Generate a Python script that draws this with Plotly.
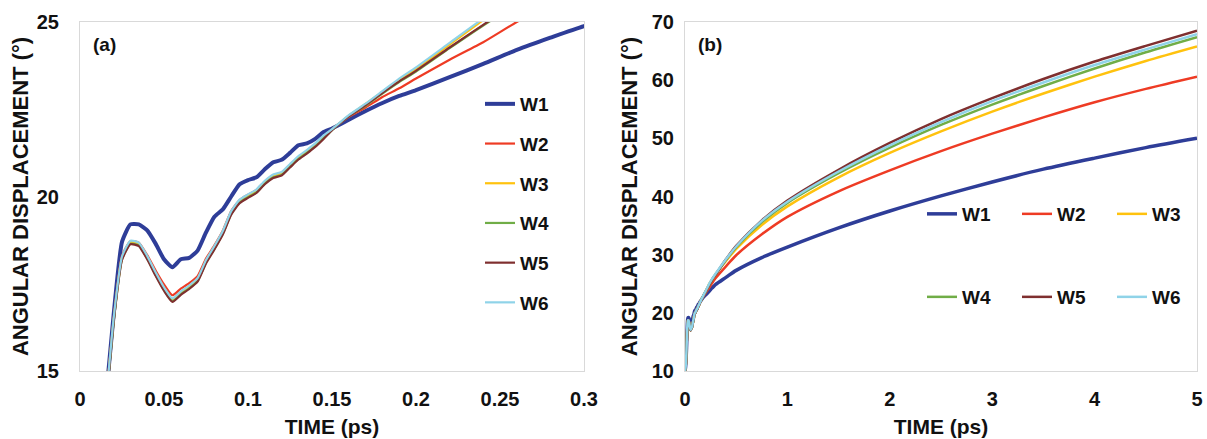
import plotly.graph_objects as go

# ---------------- data ----------------
TIME_PS = [0, 0.005, 0.01, 0.015, 0.02, 0.025, 0.03, 0.035, 0.04, 0.045, 0.05,
           0.055, 0.06, 0.065, 0.07, 0.075, 0.08, 0.085, 0.09, 0.095, 0.1,
           0.105, 0.11, 0.115, 0.12, 0.125, 0.13, 0.135, 0.14, 0.145, 0.15,
           0.16, 0.17, 0.18, 0.19, 0.2, 0.22, 0.24, 0.26, 0.28, 0.3,
           0.4, 0.5, 0.75, 1, 1.5, 2, 2.5, 3, 3.5, 4, 4.5, 5]

W1 = [10.0, 10.6, 11.8, 14.0, 16.6, 18.7, 19.2, 19.2, 19.03, 18.65, 18.2,
      17.97, 18.2, 18.24, 18.45, 18.97, 19.42, 19.63, 20.0, 20.35, 20.47,
      20.55, 20.78, 20.98, 21.05, 21.25, 21.47, 21.52, 21.65, 21.85, 21.95,
      22.2, 22.45, 22.68, 22.88, 23.05, 23.42, 23.8, 24.2, 24.55, 24.88,
      26.1, 27.3, 29.5, 31.3, 34.6, 37.5, 40.1, 42.5, 44.7, 46.6, 48.4, 50.0]

W2 = [10.0, 10.5, 11.7, 13.9, 16.5, 18.3, 18.72, 18.68, 18.32, 17.88, 17.48,
      17.17, 17.36, 17.52, 17.72, 18.22, 18.6, 19.02, 19.58, 19.9, 20.05,
      20.19, 20.43, 20.61, 20.68, 20.9, 21.13, 21.3, 21.49, 21.71, 21.92,
      22.28, 22.55, 22.85, 23.1, 23.38, 23.92, 24.42, 25.0, 25.5, 26.0,
      28.0, 29.9, 33.5, 36.5, 40.9, 44.5, 47.8, 50.8, 53.6, 56.2, 58.5, 60.6]

W3 = [10.0, 10.5, 11.7, 13.9, 16.45, 18.25, 18.7, 18.65, 18.27, 17.8, 17.37,
      17.05, 17.25, 17.42, 17.63, 18.15, 18.55, 18.98, 19.55, 19.88, 20.03,
      20.17, 20.42, 20.6, 20.67, 20.9, 21.13, 21.3, 21.49, 21.72, 21.92,
      22.32, 22.65, 23.0, 23.35, 23.65, 24.35, 25.05, 25.6, 26.15, 26.7,
      28.9, 31.0, 35.1, 38.3, 43.3, 47.5, 51.2, 54.6, 57.7, 60.6, 63.3, 65.8]

W4 = [10.0, 10.5, 11.6, 13.8, 16.4, 18.2, 18.65, 18.6, 18.22, 17.75, 17.32,
      17.0, 17.2, 17.37, 17.58, 18.1, 18.5, 18.93, 19.5, 19.83, 19.98,
      20.12, 20.37, 20.55, 20.62, 20.85, 21.08, 21.25, 21.44, 21.67, 21.9,
      22.3, 22.6, 22.95, 23.28, 23.58, 24.25, 24.9, 25.5, 26.1, 26.6,
      29.1, 31.3, 35.6, 38.9, 44.0, 48.4, 52.3, 55.8, 59.0, 62.0, 64.8, 67.4]

W5 = [10.0, 10.5, 11.6, 13.8, 16.4, 18.18, 18.63, 18.58, 18.2, 17.73, 17.3,
      16.98, 17.18, 17.35, 17.56, 18.08, 18.48, 18.91, 19.48, 19.81, 19.96,
      20.1, 20.35, 20.53, 20.6, 20.83, 21.06, 21.23, 21.42, 21.65, 21.9,
      22.3, 22.62, 22.97, 23.3, 23.6, 24.27, 24.92, 25.55, 26.15, 26.6,
      29.2, 31.5, 35.9, 39.3, 44.6, 49.2, 53.3, 56.9, 60.2, 63.2, 65.9, 68.5]

W6 = [10.0, 10.5, 11.7, 13.9, 16.5, 18.28, 18.73, 18.68, 18.3, 17.83, 17.4,
      17.08, 17.28, 17.45, 17.66, 18.18, 18.58, 19.01, 19.58, 19.91, 20.06,
      20.2, 20.45, 20.63, 20.7, 20.93, 21.16, 21.33, 21.52, 21.75, 21.93,
      22.33, 22.66, 23.02, 23.38, 23.7, 24.4, 25.1, 25.7, 26.25, 26.75,
      29.2, 31.4, 35.8, 39.1, 44.3, 48.8, 52.8, 56.4, 59.6, 62.6, 65.3, 67.9]

SERIES_NAMES = ["W1", "W2", "W3", "W4", "W5", "W6"]
SERIES_VALUES = [W1, W2, W3, W4, W5, W6]
COLORS = ["#2E3D98", "#EE3B24", "#FFC20E", "#70AD47", "#7F2F2F", "#8FD3E8"]

# ---------------- figure ----------------
W, H = 1207, 439
MT, MB = 22, 68
PH = H - MT - MB
FONT = "Arial, Liberation Sans, sans-serif"


def py(pix):  # pixel row -> paper y
    return (H - MB - pix) / PH


fig = go.Figure()
for i, (name, vals, col) in enumerate(zip(SERIES_NAMES, SERIES_VALUES, COLORS)):
    fig.add_trace(go.Scatter(
        x=TIME_PS, y=vals, name=name, mode="lines",
        line=dict(color=col, width=4 if i == 0 else 2.2, shape="spline", smoothing=0.5),
        xaxis="x", yaxis="y", legend="legend", legendgroup="a" + name))
for i, (name, vals, col) in enumerate(zip(SERIES_NAMES, SERIES_VALUES, COLORS)):
    fig.add_trace(go.Scatter(
        x=TIME_PS, y=vals, name=name, mode="lines",
        line=dict(color=col, width=3.5 if i == 0 else 2.5, shape="spline", smoothing=0.8),
        xaxis="x2", yaxis="y2", legend="legend2" if i < 3 else "legend3",
        legendgroup="b" + name))

tickfont = dict(family=FONT, size=20, color="#111111", weight="bold")
xtitlefont = dict(family=FONT, size=21, color="#111111", weight="bold")
ytitlefont = dict(family=FONT, size=22, color="#111111", weight="bold")
axis_common = dict(showline=True, linecolor="#D9D9D9", linewidth=1, mirror=True,
                   showgrid=False, zeroline=False, ticks="", tickfont=tickfont,
                   automargin=False)

legfont = dict(family=FONT, size=19, color="#111111", weight="bold")

fig.update_layout(
    width=W, height=H,
    margin=dict(l=0, r=0, t=MT, b=MB),
    paper_bgcolor="white", plot_bgcolor="white",
    xaxis=dict(domain=[80 / W, 584 / W], range=[0, 0.3], dtick=0.05, anchor="y",
               ticklabelstandoff=10,
               title=dict(text="TIME (ps)", font=xtitlefont, standoff=10), **axis_common),
    yaxis=dict(domain=[0, 1], range=[15, 25], dtick=5, anchor="x", ticklabelstandoff=16,
               title=dict(text="ANGULAR DISPLACEMENT (°)", font=ytitlefont, standoff=2),
               **axis_common),
    xaxis2=dict(domain=[685 / W, 1197 / W], range=[0, 5], dtick=1, anchor="y2",
                ticklabelstandoff=10,
                title=dict(text="TIME (ps)", font=xtitlefont, standoff=10), **axis_common),
    yaxis2=dict(domain=[0, 1], range=[10, 70], dtick=10, anchor="x2", ticklabelstandoff=6,
                title=dict(text="ANGULAR DISPLACEMENT (°)", font=ytitlefont, standoff=8),
                **axis_common),
    legend=dict(x=480 / W, y=py(85), xanchor="left", yanchor="top",
                orientation="v", traceorder="grouped", tracegroupgap=12,
                itemwidth=30, font=legfont, bgcolor="rgba(0,0,0,0)"),
    legend2=dict(x=922 / W, y=py(214), xanchor="left", yanchor="middle",
                 orientation="h", entrywidth=50, entrywidthmode="pixels",
                 itemwidth=30, font=legfont, bgcolor="rgba(0,0,0,0)"),
    legend3=dict(x=922 / W, y=py(297), xanchor="left", yanchor="middle",
                 orientation="h", entrywidth=50, entrywidthmode="pixels",
                 itemwidth=30, font=legfont, bgcolor="rgba(0,0,0,0)"),
    annotations=[
        dict(text="(a)", x=104 / W, y=py(45), xref="paper", yref="paper",
             xanchor="center", yanchor="middle", showarrow=False, font=legfont),
        dict(text="(b)", x=710 / W, y=py(45), xref="paper", yref="paper",
             xanchor="center", yanchor="middle", showarrow=False, font=legfont),
    ],
)

fig.write_html("out.html")
